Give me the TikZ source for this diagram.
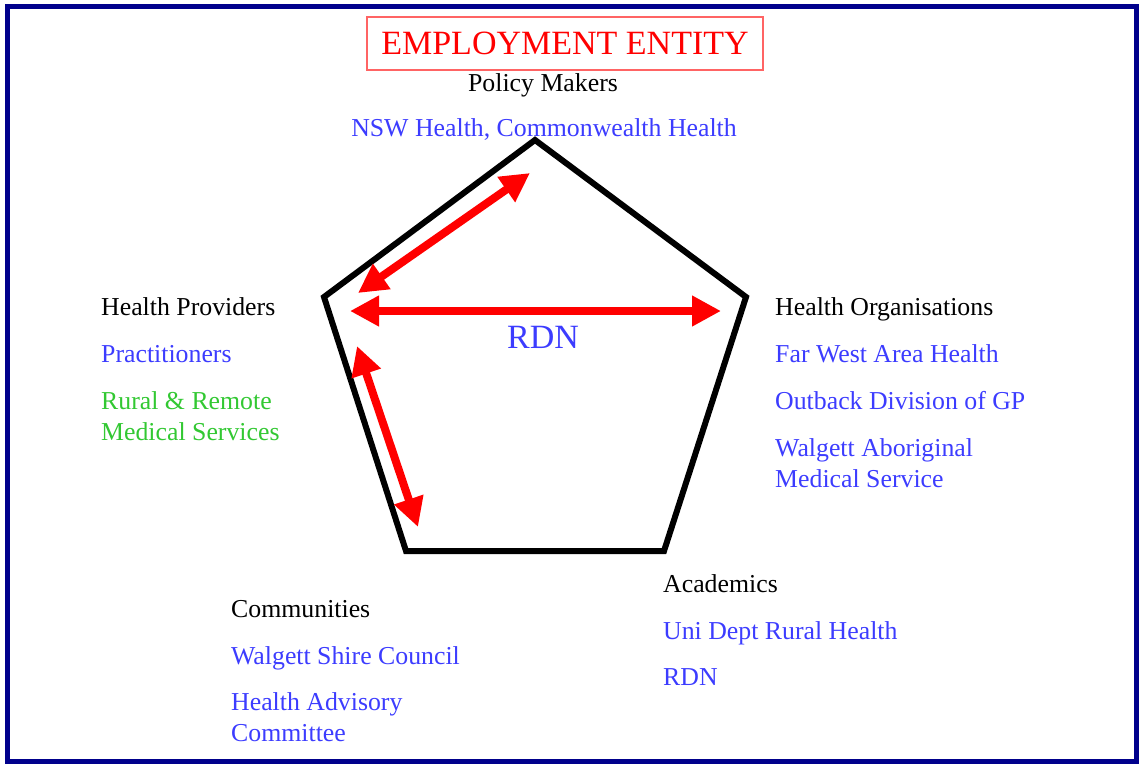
\documentclass[tikz,border=0pt]{standalone}
\usepackage{fontspec}
\setmainfont{Liberation Serif}
\usetikzlibrary{arrows.meta}
\definecolor{frameblue}{RGB}{0,0,140}
\definecolor{txtblue}{RGB}{60,60,255}
\definecolor{txtgreen}{RGB}{50,200,50}
\definecolor{boxred}{RGB}{255,100,100}
\begin{document}
\begin{tikzpicture}[x=1pt,y=-1pt,
  label/.style={anchor=base west,inner sep=0pt,align=left,font=\fontsize{25.8}{31}\selectfont},
  member/.style={label,text=txtblue},
  link/.style={red,line width=8pt,{Triangle[length=29pt,width=29pt]}-{Triangle[length=29pt,width=29pt]}}]
\def\rowA{315}
\def\rowB{362}
\def\rowC{409}
\def\rowD{456}
  \useasboundingbox (0,0) rectangle (1139,764);
  \draw[frameblue,line width=4.5pt] (7.5,6.5) rectangle (1136.5,761.5);
  %\draw[help lines,step=50] (0,0) grid (1139,764);
\coordinate (top) at (535,140);
\coordinate (left) at (324,297);
\coordinate (right) at (746,297);
\coordinate (botr) at (664,551);
\coordinate (botl) at (406,551);
\draw[line width=6pt,line join=miter] (top) -- (right) -- (botr) -- (botl) -- (left) -- cycle;
% multi-line nodes sit on their last baseline
\path
(565,43.5) node [draw=boxred,line width=1.5pt,minimum width=396,minimum height=53,inner sep=0pt,text=red,font=\fontsize{34}{40}\selectfont] (title) {EMPLOYMENT ENTITY}
(543,91) node [label,anchor=base] (policy) {Policy Makers}
(544,136) node [member,anchor=base] (nsw) {NSW Health, Commonwealth Health}
(543,348) node [member,anchor=base,font=\fontsize{34}{40}\selectfont] (rdn) {RDN}
(101,\rowA) node [label] (prov) {Health Providers}
(101,\rowB) node [member] (pract) {Practitioners}
(101,\rowC+31) node [label,text=txtgreen] (rural) {Rural \& Remote\\Medical Services}
(775,\rowA) node [label] (org) {Health Organisations}
(775,\rowB) node [member] (farwest) {Far West Area Health}
(775,\rowC) node [member] (outback) {Outback Division of GP}
(775,\rowD+31) node [member] (walgett) {Walgett Aboriginal\\Medical Service}
(663,592) node [label] (acad) {Academics}
(663,639) node [member] (uni) {Uni Dept Rural Health}
(663,685) node [member] (rdnacad) {RDN}
(231,617) node [label] (comm) {Communities}
(231,664) node [member] (shire) {Walgett Shire Council}
(231,741) node [member] (advisory) {Health Advisory\\Committee}
;
\coordinate (hl) at (350,311);
\coordinate (hr) at (721,311);
\coordinate (dl) at (358,293);
\coordinate (dt) at (530,173);
\coordinate (vl) at (357,346);
\coordinate (vb) at (418,527);
\draw[link] (hl) -- (hr);
\draw[link] (dl) -- (dt);
\draw[link] (vl) -- (vb);
\end{tikzpicture}
\end{document}
